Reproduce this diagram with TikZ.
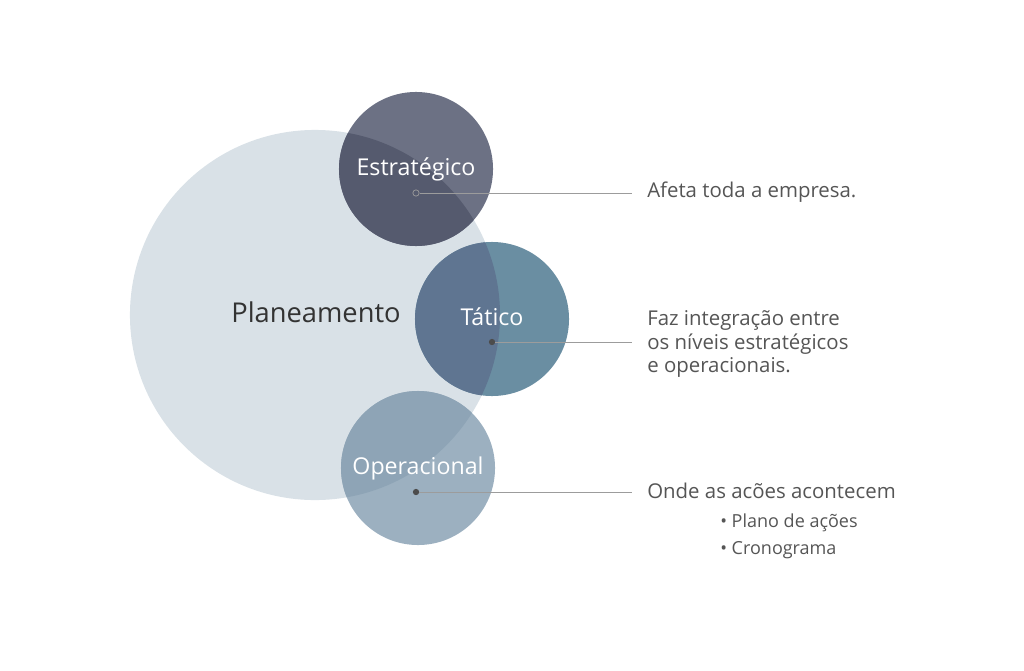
\documentclass[tikz,border=0pt]{standalone}
\usepackage{fontspec}
\setmainfont{Open Sans}
\usetikzlibrary{positioning}

\definecolor{planc}{HTML}{D9E1E7}
\definecolor{estout}{HTML}{6C7184}
\definecolor{estin}{HTML}{555A6E}
\definecolor{tatout}{HTML}{6A8EA2}
\definecolor{tatin}{HTML}{5F7591}
\definecolor{opout}{HTML}{9CB0C0}
\definecolor{opin}{HTML}{8EA4B6}
\definecolor{txtc}{HTML}{555555}
\definecolor{linkc}{HTML}{9C9C9C}

\tikzset{
  level/.style={circle,minimum size=3.85cm,inner sep=0pt,text=white,font=\fontsize{16.5}{20}\selectfont},
  note/.style={anchor=west,align=left,inner sep=0pt,text=txtc,font=\fontsize{14.5}{17}\selectfont},
  item/.style={anchor=west,inner sep=0pt,text=txtc,font=\fontsize{12.8}{15}\selectfont},
  link/.style={draw=linkc,line width=0.6pt},
  dot/.style={circle,fill=#1,inner sep=0pt,minimum size=4.5pt}
}

\begin{document}
\begin{tikzpicture}[x=0.025cm,y=-0.025cm]
\useasboundingbox (0,0) rectangle (1024,670);

\node[circle,fill=planc,minimum size=9.25cm,inner sep=0pt] (P) at (315,315) {};

% levels, with the part that lies inside the big circle darker
\foreach \nm/\x/\y/\cout/\cin in {E/416/169/estout/estin,T/492/319/tatout/tatin,O/418/468/opout/opin}{
  \node[level,fill=\cout] (\nm) at (\x,\y) {};
  \begin{scope}
    \clip (P.center) circle (185);
    \fill[\cin] (\nm.center) circle (77);
  \end{scope}
}

\node[font=\fontsize{19.4}{24}\selectfont,text=black!80] (PL) at (316,312) {Planeamento};
\node[level] (EL) at (E.center) {Estratégico};
\node[level] (TL) at (492,317) {Tático};
\node[level] (OL) at (O.center) {Operacional};

\node[dot=estin,draw=linkc,line width=0.5pt] (dE) at (416,193) {};
\node[dot=black!70] (dT) at (492,342) {};
\node[dot=black!70] (dO) at (416,492) {};

\node[note] (nE) at (647,192) {Afeta toda a empresa.};
\node[note] (nT) at (647,344) {Faz integração entre\\os níveis estratégicos\\e operacionais.};
\node[note] (nO) at (647,491) {Onde as acões acontecem};
\node[item] (i1) at (720,523) {• Plano de ações};
\node[item] (i2) at (720,550) {• Cronograma};

\draw[link] (dE) -- ([xshift=-15*0.025cm]nE.west |- dE);
\draw[link] (dT) -- ([xshift=-15*0.025cm]nT.west |- dT);
\draw[link] (dO) -- ([xshift=-15*0.025cm]nO.west |- dO);
\end{tikzpicture}
\end{document}
